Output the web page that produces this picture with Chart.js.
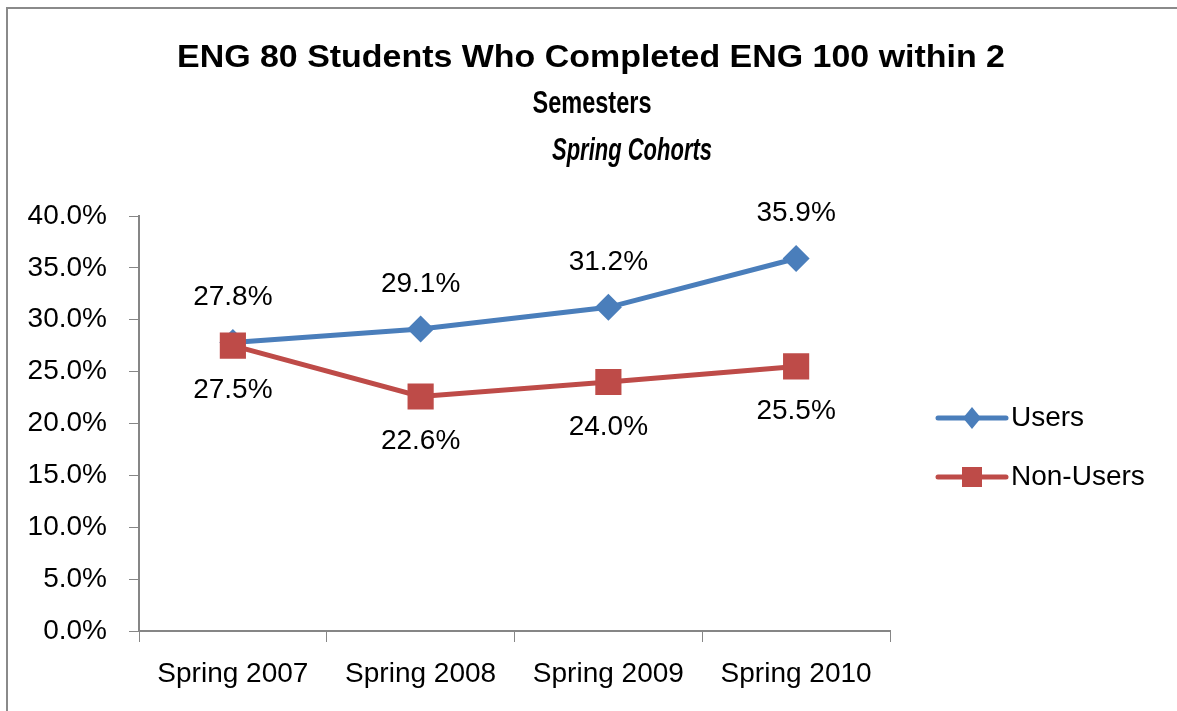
<!DOCTYPE html>
<html><head><meta charset="utf-8">
<script src="https://cdn.jsdelivr.net/npm/chart.js@4.4.1/dist/chart.umd.min.js"></script>
<style>html,body{margin:0;padding:0;background:#fff;} canvas{display:block;}</style>
</head><body>
<canvas id="c" width="1177" height="711"></canvas>
<script>
const categories = ['Spring 2007', 'Spring 2008', 'Spring 2009', 'Spring 2010'];
const usersValues = [27.8, 29.1, 31.2, 35.9];
const nonUsersValues = [27.5, 22.6, 24.0, 25.5];
const seriesNames = ['Users', 'Non-Users'];
const titleLines = ['ENG 80 Students Who Completed ENG 100 within 2', 'Semesters'];
const subtitleText = 'Spring Cohorts';
const yMin = 0, yMax = 40, yStep = 5;

const BLUE = '#4A7EBB';
const RED = '#BE4B48';
const AXIS = '#868686';
const FONT = "'Liberation Sans', Arial, sans-serif";

const framePlugin = {
  id: 'frame',
  beforeDraw(chart) {
    const ctx = chart.ctx;
    ctx.save();
    ctx.fillStyle = '#fff';
    ctx.fillRect(0, 0, chart.width, chart.height);
    ctx.strokeStyle = '#8a8a8a';
    ctx.lineWidth = 2;
    ctx.beginPath();
    ctx.moveTo(7, chart.height);
    ctx.lineTo(7, 8);
    ctx.lineTo(chart.width, 8);
    ctx.stroke();
    ctx.restore();
  }
};

// title block: text lines with target layout (centre x, centre y, fitted width)
const titleLayout = [
  { text: titleLines[0], cx: 591, cy: 58, w: 828, font: 'bold 31px ' + FONT },
  { text: titleLines[1], cx: 592, cy: 104, w: 119, font: 'bold 31px ' + FONT },
  { text: subtitleText, cx: 632, cy: 151, w: 160, font: 'italic bold 31px ' + FONT }
];
const titlePlugin = {
  id: 'fittedTitle',
  afterDraw(chart) {
    const ctx = chart.ctx;
    titleLayout.forEach(l => {
      ctx.save();
      ctx.font = l.font;
      ctx.fillStyle = '#000';
      ctx.textAlign = 'center';
      ctx.textBaseline = 'middle';
      const natural = ctx.measureText(l.text).width;
      const sx = l.w / natural;
      ctx.translate(l.cx, l.cy);
      ctx.scale(sx, 1);
      ctx.fillText(l.text, 0, 0);
      ctx.restore();
    });
  }
};

const labelPlugin = {
  id: 'pointLabels',
  afterDatasetsDraw(chart) {
    const ctx = chart.ctx;
    ctx.save();
    ctx.font = '28px ' + FONT;
    ctx.fillStyle = '#000';
    ctx.textAlign = 'center';
    ctx.textBaseline = 'middle';
    chart.data.datasets.forEach((ds, di) => {
      const meta = chart.getDatasetMeta(di);
      const dir = ds.labelPos === 'above' ? -1 : 1;
      meta.data.forEach((pt, i) => {
        ctx.fillText(ds.data[i].toFixed(1) + '%', pt.x, pt.y + dir * 45);
      });
    });
    ctx.restore();
  }
};

const legendPlugin = {
  id: 'customLegend',
  afterDraw(chart) {
    const ctx = chart.ctx;
    const x0 = chart.chartArea.right + 48;
    const rows = [418, 477];
    ctx.save();
    chart.data.datasets.forEach((ds, di) => {
      const y = rows[di];
      ctx.strokeStyle = ds.borderColor;
      ctx.lineWidth = 5;
      ctx.lineCap = 'round';
      ctx.beginPath();
      ctx.moveTo(x0, y);
      ctx.lineTo(x0 + 68, y);
      ctx.stroke();
      ctx.fillStyle = ds.backgroundColor;
      const cx = x0 + 34;
      ctx.beginPath();
      if (ds.pointStyle === 'rectRot') {
        ctx.moveTo(cx - 9, y);
        ctx.lineTo(cx, y - 11);
        ctx.lineTo(cx + 9, y);
        ctx.lineTo(cx, y + 11);
        ctx.closePath();
      } else {
        ctx.rect(cx - 10, y - 10, 20, 20);
      }
      ctx.fill();
      ctx.fillStyle = '#000';
      ctx.font = '28px ' + FONT;
      ctx.textAlign = 'left';
      ctx.textBaseline = 'middle';
      ctx.fillText(ds.label, x0 + 73, y);
    });
    ctx.restore();
  }
};

new Chart(document.getElementById('c'), {
  type: 'line',
  data: {
    labels: categories,
    datasets: [
      {
        label: seriesNames[0], data: usersValues,
        borderColor: BLUE, backgroundColor: BLUE, borderWidth: 5,
        pointStyle: 'rectRot', pointRadius: 13.5, pointHoverRadius: 13.5,
        pointBorderWidth: 0, tension: 0, order: 1, labelPos: 'above'
      },
      {
        label: seriesNames[1], data: nonUsersValues,
        borderColor: RED, backgroundColor: RED, borderWidth: 5,
        pointStyle: 'rect', pointRadius: 18.5, pointHoverRadius: 18.5,
        pointBorderWidth: 0, tension: 0, order: 0, labelPos: 'below'
      }
    ]
  },
  options: {
    responsive: false,
    animation: false,
    devicePixelRatio: 1,
    layout: { padding: { left: 0, right: 287, top: 216, bottom: 0 } },
    plugins: {
      legend: { display: false },
      tooltip: { enabled: false },
      title: { display: false },
      subtitle: { display: false }
    },
    scales: {
      x: {
        offset: true,
        grid: { display: true, drawOnChartArea: false, drawTicks: true, tickLength: 11, color: AXIS, offset: true },
        border: { display: true, color: AXIS, width: 2 },
        ticks: { color: '#000', font: { family: FONT, size: 28 }, padding: 15, maxRotation: 0, autoSkip: false },
        afterFit(s) { s.height = 80; }
      },
      y: {
        min: yMin, max: yMax,
        grid: { display: true, drawOnChartArea: false, drawTicks: true, tickLength: 10, color: AXIS },
        border: { display: true, color: AXIS, width: 2 },
        ticks: {
          stepSize: yStep, color: '#000', font: { family: FONT, size: 28 }, padding: 22,
          callback: v => Number(v).toFixed(1) + '%'
        },
        afterFit(s) { s.width = 139; }
      }
    }
  },
  plugins: [framePlugin, titlePlugin, labelPlugin, legendPlugin]
});
</script>
</body></html>
